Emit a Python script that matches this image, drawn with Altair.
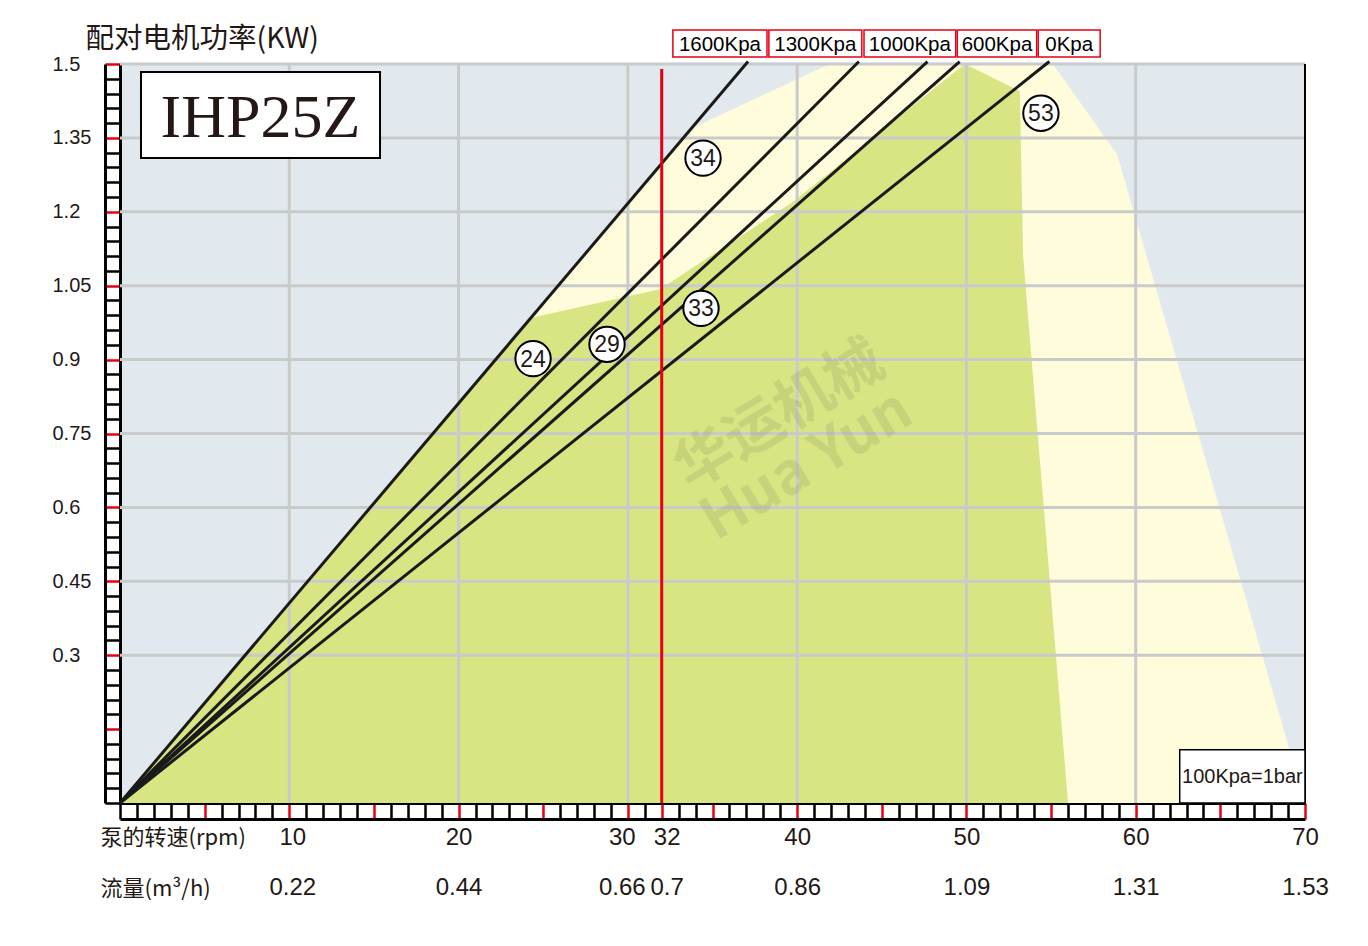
import json
import altair as alt
import pandas as pd

# ---------------- data ----------------
# x axis: pump speed (rpm) with flow (m3/h) labels
rpm_label_ticks = [10, 20, 30, 32, 40, 50, 60, 70]
flow_labels = ["0.22", "0.44", "0.66", "0.7", "0.86", "1.09", "1.31", "1.53"]
rpm_minor_ticks = list(range(0, 71))
x_grid_values = [10, 20, 30, 40, 50, 60]

# y axis: motor power (kW)
y_minor_ticks = [round(i * 0.03, 2) for i in range(51)]
y_label_ticks = [0.3, 0.45, 0.6, 0.75, 0.9, 1.05, 1.2, 1.35, 1.5]
y_label_text = ["0.3", "0.45", "0.6", "0.75", "0.9", "1.05", "1.2", "1.35", "1.5"]
y_grid_values = [0.3, 0.45, 0.6, 0.75, 0.9, 1.05, 1.2, 1.35, 1.5]

# pressure lines (start at origin)
pressure_names = ["1600Kpa", "1300Kpa", "1000Kpa", "600Kpa", "0Kpa"]
line_end_rpm = [37.1, 43.65, 47.7, 49.6, 54.9]
line_end_kw = [1.505, 1.505, 1.505, 1.505, 1.505]
box_left_rpm = [32.66, 38.33, 43.95, 49.46, 54.24]
box_right_rpm = [38.22, 43.82, 49.37, 54.15, 57.9]

# numbered markers
marker_labels = ["34", "24", "29", "33", "53"]
marker_rpm = [34.44, 24.4, 28.77, 34.32, 54.4]
marker_kw = [1.309, 0.902, 0.931, 1.004, 1.400]

# regions
yellow_rpm = [0, 33.7, 41.9, 55.1, 58.9, 70]
yellow_kw = [0, 1.368, 1.5, 1.5, 1.317, 0]
green_rpm = [0, 24.3, 31.9, 39.75, 49.9, 53.15, 53.35, 56.0]
green_kw = [0, 0.985, 1.043, 1.22, 1.5, 1.445, 1.11, 0]

# operating speed
red_rpm = [32]
red_kw_top = [1.49]

# ---------------- styles ----------------
RED = "#E60012"
DARK = "#231815"
GRID = "#C9CACA"
BLUE = "#E1E9EE"
YELLOW = "#FEFCDB"
GREEN = "#D9E483"
SANS = "Liberation Sans, Arial, sans-serif"
CJK = "Noto Sans CJK SC, sans-serif"

xs = alt.Scale(domain=[0, 70], nice=False, zero=False)
ys = alt.Scale(domain=[0, 1.5], nice=False, zero=False)

def X(f, axis=None):
    return alt.X(f, type="quantitative", scale=xs, axis=axis)

def Y(f, axis=None):
    return alt.Y(f, type="quantitative", scale=ys, axis=axis)

rpm_js = json.dumps(rpm_label_ticks)
flow_js = json.dumps(flow_labels)
x_label_expr = (f"indexof({rpm_js}, datum.value) >= 0 ? "
                f"[datum.label, {flow_js}[indexof({rpm_js}, datum.value)]] : ''")
ylt_js = json.dumps(y_label_ticks)
ytx_js = json.dumps(y_label_text)
y_label_expr = (f"indexof({ylt_js}, datum.value) >= 0 ? "
                f"{ytx_js}[indexof({ylt_js}, datum.value)] : ''")

x_main_axis = alt.Axis(
    values=rpm_minor_ticks, grid=False,
    tickSize=16, tickWidth=2.5,
    tickColor={"condition": {"test": "(datum.value % 5 === 0 && datum.value > 0) || datum.value === 32",
                             "value": RED}, "value": "black"},
    domainColor="black", domainWidth=3,
    labelExpr=x_label_expr, labelFont=SANS, labelFontSize=24, labelColor=DARK,
    labelPadding=6, labelBaseline="top", labelLineHeight=50,
    labelOffset={"condition": [{"test": "datum.value === 30", "value": -6},
                               {"test": "datum.value === 32", "value": 5},
                               {"test": "datum.value === 10", "value": 3}],
                 "value": 0},
    labelOverlap=False, labelFlush=False, labelBound=False,
    title=["泵的转速(rpm)", "流量(m³/h)"], titleFont=CJK, titleFontSize=22,
    titleFontWeight="normal", titleColor=DARK, titleX=-20, titleY=34,
    titleAlign="left", titleBaseline="middle", titleLineHeight=51,
)
y_main_axis = alt.Axis(
    values=y_minor_ticks, grid=False,
    tickSize=15, tickWidth=2.5,
    tickColor={"condition": {"test": "abs(datum.value / 0.15 - round(datum.value / 0.15)) < 0.000001 && datum.value > 0",
                             "value": RED}, "value": "black"},
    domainColor="black", domainWidth=3,
    labelExpr=y_label_expr, labelFont=SANS, labelFontSize=20, labelColor=DARK,
    labelAlign="left", labelBaseline="middle", labelPadding=53,
    labelOverlap=False, labelFlush=False, labelBound=False,
    title="配对电机功率(KW)", titleFont=CJK, titleFontSize=28.5, titleFontWeight="normal",
    titleColor=DARK, titleAngle=0, titleX=-35, titleY=-26,
    titleAlign="left", titleBaseline="middle",
)
x_outer_axis = alt.Axis(orient="bottom", offset=16, domainColor="black", domainWidth=3,
                        ticks=False, labels=False, title=None, grid=False)
y_outer_axis = alt.Axis(orient="left", offset=15, domainColor="black", domainWidth=3,
                        ticks=False, labels=False, title=None, grid=False)

# ---------------- tables ----------------
yellow_df = pd.DataFrame({"rpm": yellow_rpm, "kw": yellow_kw})
green_df = pd.DataFrame({"rpm": green_rpm, "kw": green_kw})
xgrid_df = pd.DataFrame({"rpm": x_grid_values})
ygrid_df = pd.DataFrame({"kw": y_grid_values})
rows = []
for n, xe, ye in zip(pressure_names, line_end_rpm, line_end_kw):
    rows.append({"name": n, "rpm": 0, "kw": 0})
    rows.append({"name": n, "rpm": xe, "kw": ye})
lines_df = pd.DataFrame(rows)
boxes_df = pd.DataFrame({"name": pressure_names, "left": box_left_rpm, "right": box_right_rpm})
boxes_df["mid"] = (boxes_df["left"] + boxes_df["right"]) / 2
boxes_df["bottom"] = 1.514
boxes_df["top"] = 1.569
boxes_df["cy"] = 1.5415
markers_df = pd.DataFrame({"label": marker_labels, "rpm": marker_rpm, "kw": marker_kw})
red_df = pd.DataFrame({"rpm": red_rpm, "kw0": [0], "kw1": red_kw_top})
border_df = pd.DataFrame({"rpm": [70], "kw0": [0], "kw1": [1.5]})
title_df = pd.DataFrame({"x0": [1.24], "x1": [15.36], "y0": [1.309], "y1": [1.484],
                         "cx": [8.3], "cy": [1.3965], "t": ["IHP25Z"]})
note_df = pd.DataFrame({"x0": [62.6], "x1": [70], "y0": [0], "y1": [0.108],
                        "cx": [66.3], "cy": [0.054], "t": ["100Kpa=1bar"]})
wm_df = pd.DataFrame({"rpm": [39.0, 40.6], "kw": [0.785, 0.683], "t": ["华运机械", "Hua Yun"]})

# ---------------- layers ----------------
yellow = alt.Chart(yellow_df).mark_area(color=YELLOW, opacity=1).encode(
    x=X("rpm", x_main_axis), y=Y("kw", y_main_axis))
green = alt.Chart(green_df).mark_area(color=GREEN, opacity=1).encode(
    x=X("rpm", x_outer_axis), y=Y("kw", y_outer_axis))
xgrid = alt.Chart(xgrid_df).mark_rule(color=GRID, strokeWidth=3).encode(x=X("rpm"))
ygrid = alt.Chart(ygrid_df).mark_rule(color=GRID, strokeWidth=3).encode(y=Y("kw"))
wm = alt.Chart(wm_df).mark_text(font=CJK, fontSize=58, fontWeight="bold", angle=329,
                                color="#6f7350", opacity=0.15, align="center",
                                baseline="middle").encode(x=X("rpm"), y=Y("kw"), text="t:N")
plines = alt.Chart(lines_df).mark_line(color="#1a1a1a", strokeWidth=3).encode(
    x=X("rpm"), y=Y("kw"), detail="name:N")
redline = alt.Chart(red_df).mark_rule(color=RED, strokeWidth=3).encode(
    x=X("rpm"), y=Y("kw0"), y2="kw1")
border = alt.Chart(border_df).mark_rule(color="black", strokeWidth=2).encode(
    x=X("rpm"), y=Y("kw0"), y2="kw1")
circles = alt.Chart(markers_df).mark_circle(size=1250, fill="white", stroke="black",
                                            strokeWidth=2, opacity=1).encode(
    x=X("rpm"), y=Y("kw"))
ctext = alt.Chart(markers_df).mark_text(font=SANS, fontSize=23, color=DARK,
                                        align="center", baseline="middle", dy=1).encode(
    x=X("rpm"), y=Y("kw"), text="label:N")
brect = alt.Chart(boxes_df).mark_rect(fill="white", stroke=RED, strokeWidth=1.5).encode(
    x=X("left"), x2="right", y=Y("bottom"), y2="top")
btext = alt.Chart(boxes_df).mark_text(font=SANS, fontSize=20.5, color="black",
                                      align="center", baseline="middle", dy=1).encode(
    x=X("mid"), y=Y("cy"), text="name:N")
trect = alt.Chart(title_df).mark_rect(fill="white", stroke="black", strokeWidth=2).encode(
    x=X("x0"), x2="x1", y=Y("y0"), y2="y1")
ttext = alt.Chart(title_df).mark_text(font="Liberation Serif, Times New Roman, serif",
                                      fontSize=62, color=DARK, align="center",
                                      baseline="middle", dy=3).encode(
    x=X("cx"), y=Y("cy"), text="t:N")
nrect = alt.Chart(note_df).mark_rect(fill="white", stroke="black", strokeWidth=1.5).encode(
    x=X("x0"), x2="x1", y=Y("y0"), y2="y1")
ntext = alt.Chart(note_df).mark_text(font=SANS, fontSize=20, color=DARK,
                                     align="center", baseline="middle", dy=1).encode(
    x=X("cx"), y=Y("cy"), text="t:N")

chart = alt.layer(
    yellow, green, xgrid, ygrid, wm, plines, redline, border,
    circles, ctext, brect, btext, trect, ttext, nrect, ntext,
).resolve_axis(x="independent", y="independent").properties(
    width=1185, height=739,
    autosize=alt.AutoSizeParams(type="none"),
    padding={"left": 112, "top": 56, "right": 55, "bottom": 135},
    background="white",
).configure_view(fill=BLUE, stroke=None)

chart.save("out.html", embed_options={"renderer": "svg", "actions": False})
